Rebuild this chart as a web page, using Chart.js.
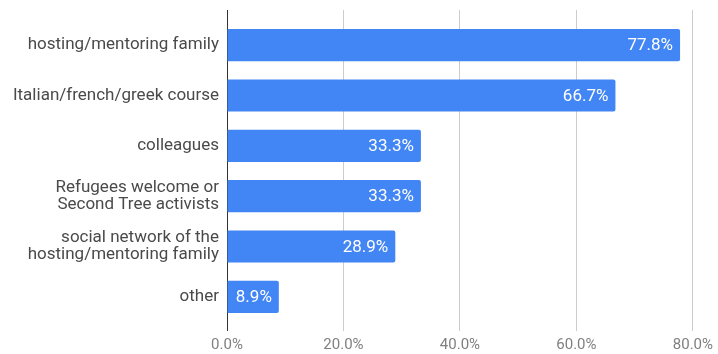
<!DOCTYPE html>
<html>
<head>
<meta charset="utf-8">
<script src="https://cdn.jsdelivr.net/npm/chart.js@4/dist/chart.umd.min.js"></script>
<style>
  html,body{margin:0;padding:0;background:#fff;}
  #wrap{width:718px;height:354px;position:relative;}
</style>
</head>
<body>
<div id="wrap"><canvas id="chart"></canvas></div>
<script>
/* ---------- data ---------- */
const categories = [
  "hosting/mentoring family",
  "Italian/french/greek course",
  "colleagues",
  ["Refugees welcome or", "Second Tree activists"],
  ["social network of the", "hosting/mentoring family"],
  "other"
];
const shares = [77.8, 66.7, 33.3, 33.3, 28.9, 8.9];   // percent
const xTicks = [0, 20, 40, 60, 80];

const BLUE = "#4285F4";
const GRID = "#cccccc";
const ZERO = "#333333";

/* value labels drawn inside the bar end */
const barLabels = {
  id: "barLabels",
  afterDatasetsDraw(chart){
    const {ctx} = chart;
    const meta = chart.getDatasetMeta(0);
    ctx.save();
    ctx.font = "17px Roboto";
    ctx.fillStyle = "#ffffff";
    ctx.textAlign = "right";
    ctx.textBaseline = "middle";
    meta.data.forEach((bar, i) => {
      ctx.fillText(shares[i].toFixed(1) + "%", bar.x - 7, bar.y + 1);
    });
    ctx.restore();
  }
};

const gridColor = c => (c.tick && c.tick.value === 0) ? ZERO : GRID;

new Chart(document.getElementById("chart"), {
  type: "bar",
  data: {
    labels: categories,
    datasets: [{
      data: shares,
      backgroundColor: BLUE,
      borderWidth: 0,
      borderRadius: 2,
      borderSkipped: "start",
      barPercentage: 0.64,
      categoryPercentage: 1
    }]
  },
  options: {
    indexAxis: "y",
    responsive: true,
    maintainAspectRatio: false,
    animation: false,
    layout: {padding: {left: 0, right: 23, top: 0, bottom: 0}},
    plugins: {legend: {display: false}, tooltip: {enabled: false}},
    scales: {
      x: {
        position: "bottom",
        min: 0, max: 80,
        afterBuildTicks: s => { s.ticks = xTicks.map(v => ({value: v})); },
        afterFit: s => { s.height = 32; },
        grid: {color: gridColor, lineWidth: 1, tickLength: 9, drawTicks: true},
        border: {display: false},
        ticks: {
          color: "#808080",
          font: {family: "Roboto", size: 15},
          padding: 5,
          callback: v => v.toFixed(1) + "%"
        }
      },
      xTop: {
        position: "top",
        min: 0, max: 80,
        afterBuildTicks: s => { s.ticks = xTicks.map(v => ({value: v})); },
        afterFit: s => { s.height = 20; },
        grid: {color: gridColor, drawOnChartArea: false, drawTicks: true, tickLength: 10},
        border: {display: false},
        ticks: {display: false}
      },
      y: {
        afterFit: s => { s.width = 227; },
        grid: {display: false, drawTicks: false},
        border: {display: false},
        ticks: {
          color: "#4a4a4a",
          font: {family: "Roboto", size: 17, lineHeight: 1.02},
          padding: 8
        }
      }
    }
  },
  plugins: [barLabels]
});
</script>
</body>
</html>
